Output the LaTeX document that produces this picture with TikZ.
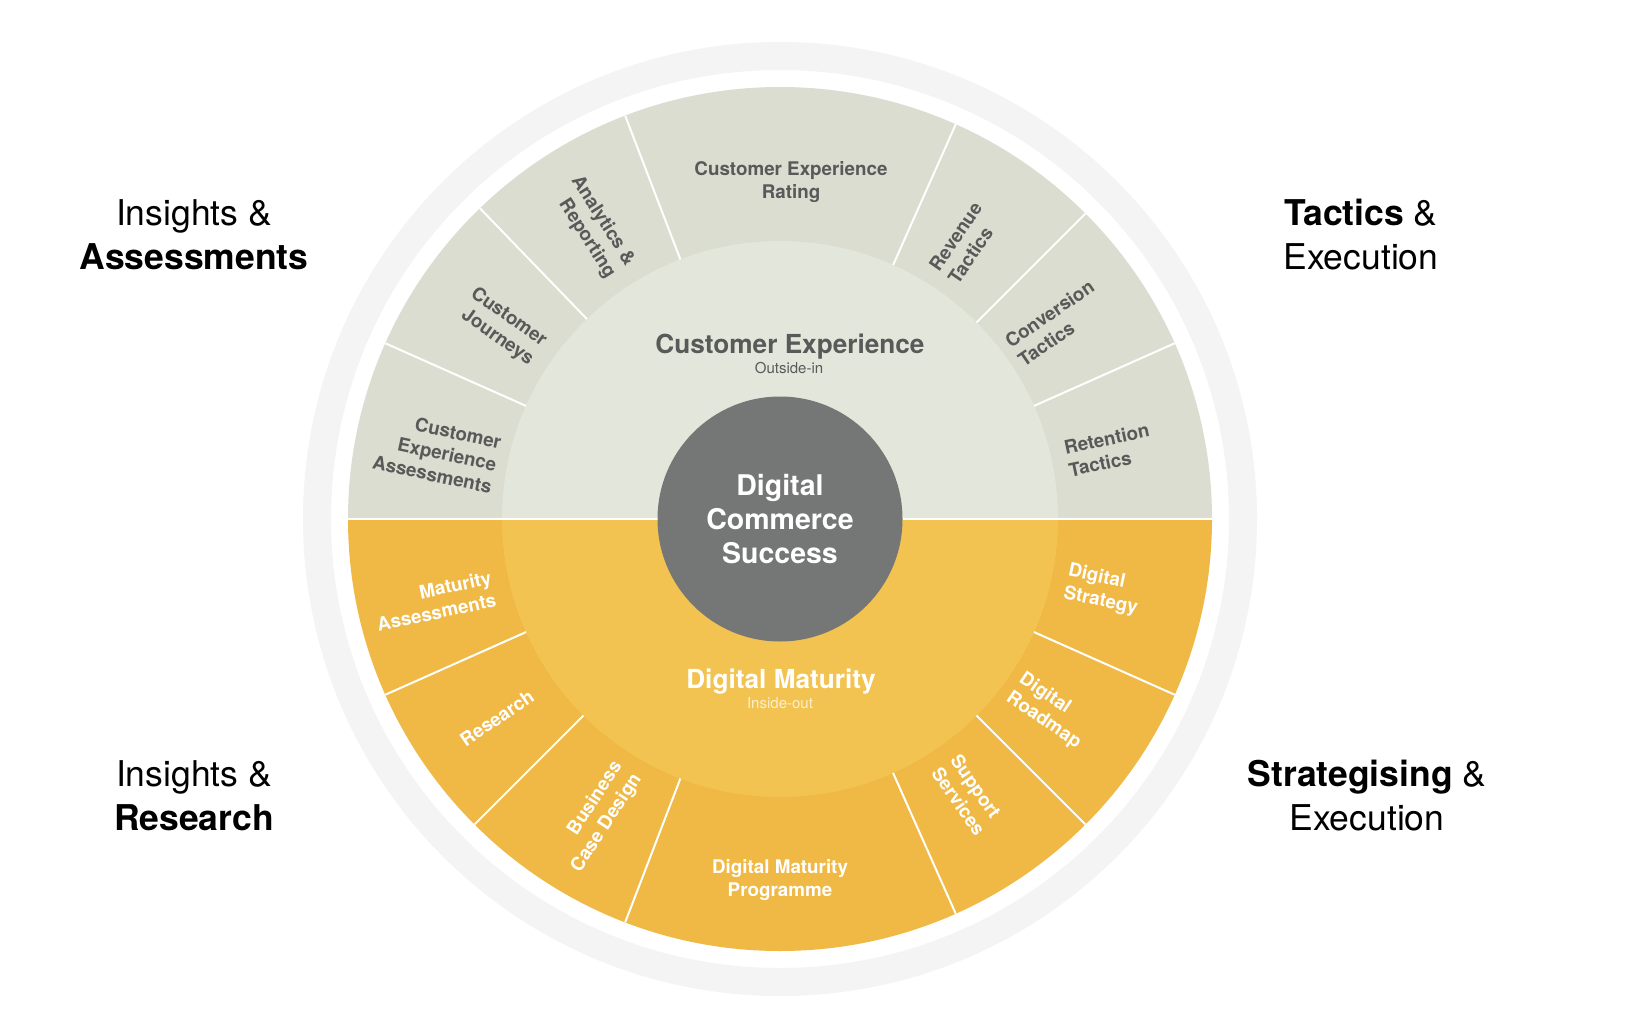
\documentclass[tikz,border=0pt]{standalone}
\usepackage{fontspec}
\setmainfont{TeX Gyre Heros}
\definecolor{ringgray}{HTML}{F4F4F4}
\definecolor{cxouter}{HTML}{DADDD0}
\definecolor{cxinner}{HTML}{E3E7DB}
\definecolor{ylouter}{HTML}{F0B844}
\definecolor{ylinner}{HTML}{F3C352}
\definecolor{darkc}{HTML}{757676}
\definecolor{labelgray}{HTML}{595959}
\definecolor{insideout}{HTML}{FDEFCB}
\begin{document}
\begin{tikzpicture}[x=1pt,y=1pt,
  seglabel/.style={font=\bfseries\fontsize{18.8}{23}\selectfont, inner sep=0pt},
  cxlabel/.style={seglabel, text=labelgray},
  dmlabel/.style={seglabel, text=white},
  divider/.style={draw=white, line width=2pt},
  corner/.style={font=\fontsize{35.5}{44}\selectfont, text=black, inner sep=0pt, align=center},
  midtitle/.style={font=\bfseries\fontsize{26.2}{30}\selectfont, inner sep=0pt, anchor=base},
  midsub/.style={font=\fontsize{15}{18}\selectfont, inner sep=0pt, anchor=base}
]
\useasboundingbox (0,0) rectangle (1638,-1035);
\fill[white] (0,0) rectangle (1638,-1035);
\coordinate (C) at (780,-519);
\begin{scope}[shift={(C)}]
  \fill[ringgray, even odd rule] (0,0) circle[radius=477] (0,0) circle[radius=449];
  \fill[cxouter] (0,0) -- (0:432) arc[start angle=0,end angle=180,radius=432] -- cycle;
  \fill[ylouter] (0,0) -- (180:432) arc[start angle=180,end angle=360,radius=432] -- cycle;
  \fill[cxinner] (0,0) -- (0:278) arc[start angle=0,end angle=180,radius=278] -- cycle;
  \fill[ylinner] (0,0) -- (180:278) arc[start angle=180,end angle=360,radius=278] -- cycle;
  \foreach \a in {24,45,66,111,134,156,204,225,249,294,315,336}
    \draw[divider] (\a:278) -- (\a:432);
  \draw[divider] (180:432) -- (0:432);
\end{scope}

\node[circle, fill=darkc, minimum size=245pt, inner sep=0pt, text=white,
      font=\bfseries\fontsize{28.5}{34}\selectfont, align=center] (core) at (C)
      {Digital\\Commerce\\Success};

% middle ring titles
\node[midtitle, text=labelgray] (cxt) at (790,-353) {Customer Experience};
\node[midsub, text=labelgray] (cxs) at (789,-373) {Outside-in};
\node[midtitle, text=white] (dmt) at (781,-688) {Digital Maturity};
\node[midsub, text=insideout] (dms) at (780,-708) {Inside-out};

% customer experience segments
\node[cxlabel, align=right, rotate=-12] (cxa) at (437,-452) {Customer\\Experience\\Assessments};
\node[cxlabel, align=right, rotate=-35] (cj) at (502,-327) {Customer\\Journeys};
\node[cxlabel, align=right, rotate=-57.5] (ar) at (593,-227) {Analytics \&\\Reporting};
\node[cxlabel, align=center] (cxr) at (791,-182) {Customer Experience\\Rating};
\node[cxlabel, align=left, rotate=55.5] (rt) at (965,-243) {Revenue\\Tactics};
\node[cxlabel, align=left, rotate=34.5] (ct) at (1056,-323) {Conversion\\Tactics};
\node[cxlabel, align=left, rotate=12] (ret) at (1109,-450) {Retention\\Tactics};

% digital maturity segments
\node[dmlabel, align=right, rotate=12] (ma) at (434,-601) {Maturity\\Assessments};
\node[dmlabel, rotate=34.5] (res) at (497,-718) {Research};
\node[dmlabel, align=right, rotate=57] (bcd) at (597,-817) {Business\\Case Design};
\node[dmlabel, align=center] (dmp) at (780,-880) {Digital Maturity\\Programme};
\node[dmlabel, align=left, rotate=-55] (ss) at (968,-795) {Support\\Services};
\node[dmlabel, align=left, rotate=-34] (dr) at (1050,-711) {Digital\\Roadmap};
\node[dmlabel, align=left, rotate=-12] (ds) at (1103,-590) {Digital\\Strategy};

% corner captions
\node[corner] (ia) at (194,-235) {Insights \&\\\textbf{Assessments}};
\node[corner] (te) at (1361,-235) {\textbf{Tactics} \&\\Execution};
\node[corner] (ir) at (194,-796) {Insights \&\\\textbf{Research}};
\node[corner] (se) at (1367,-796) {\textbf{Strategising} \&\\Execution};
\end{tikzpicture}
\end{document}
